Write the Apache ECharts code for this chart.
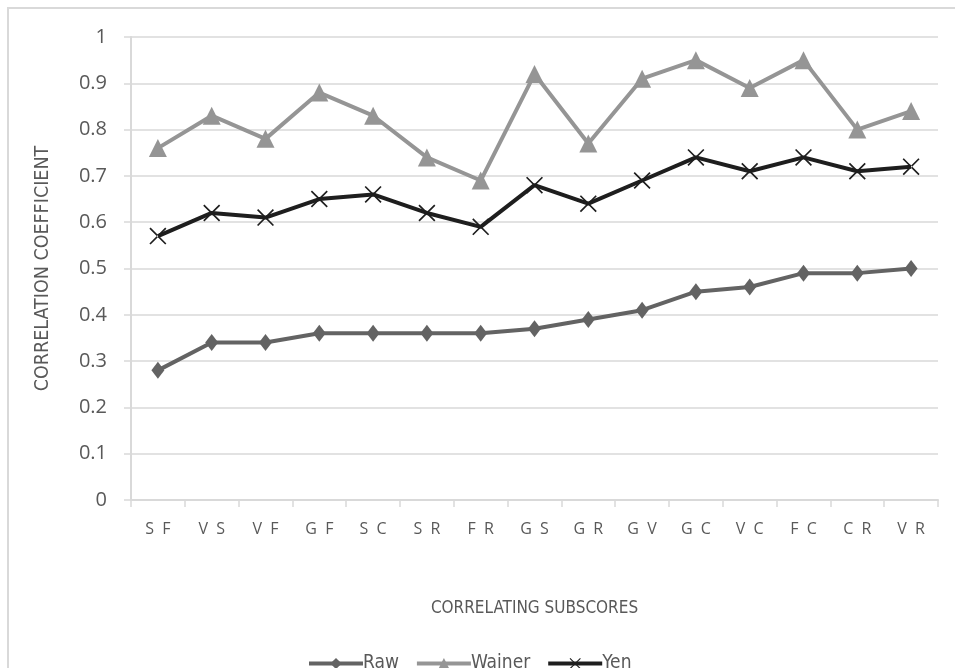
<!DOCTYPE html>
<html>
<head>
<meta charset="utf-8">
<script src="https://cdn.jsdelivr.net/npm/echarts@6/dist/echarts.min.js"></script>
<style>
html,body{margin:0;padding:0;background:#fff;}
#frame{position:absolute;left:7px;top:7px;width:960px;height:680px;border:2px solid #d9d9d9;box-sizing:border-box;}
#chart{position:absolute;left:0;top:0;width:955px;height:668px;}
</style>
</head>
<body>
<div id="frame"></div>
<div id="chart"></div>
<script>
const categories = ['SF','VS','VF','GF','SC','SR','FR','GS','GR','GV','GC','VC','FC','CR','VR'];
const rawValues = [0.28,0.34,0.34,0.36,0.36,0.36,0.36,0.37,0.39,0.41,0.45,0.46,0.49,0.49,0.50];
const wainerValues = [0.76,0.83,0.78,0.88,0.83,0.74,0.69,0.92,0.77,0.91,0.95,0.89,0.95,0.80,0.84];
const yenValues = [0.57,0.62,0.61,0.65,0.66,0.62,0.59,0.68,0.64,0.69,0.74,0.71,0.74,0.71,0.72];

const xSymbol = 'path://M0,1.4L1.4,0L20,18.6L18.6,20Z M20,1.4L18.6,0L0,18.6L1.4,20Z';
const narrow = "'Liberation Sans Narrow','DejaVu Sans Condensed',sans-serif";
const tickFont = "'Open Sans','Liberation Sans',sans-serif";

const chart = echarts.init(document.getElementById('chart'), null, {renderer:'canvas'});
chart.setOption({
  backgroundColor: 'transparent',
  animation: false,
  grid: {left: 131, right: 17, top: 37, bottom: 168},
  legend: {
    top: 649, left: 302,
    itemWidth: 54, itemHeight: 14, itemGap: 16,
    lineStyle: {width: 4},
    textStyle: {color: '#595959', fontSize: 19, fontFamily: narrow, padding: [0,0,0,-5]},
    data: ['Raw','Wainer','Yen']
  },
  xAxis: {
    type: 'category',
    data: categories,
    boundaryGap: true,
    name: 'CORRELATING SUBSCORES',
    nameLocation: 'middle',
    nameGap: 100,
    nameTextStyle: {color: '#595959', fontSize: 17, fontFamily: narrow},
    axisLine: {lineStyle: {color: '#d9d9d9', width: 2}},
    axisTick: {show: true, length: 7, lineStyle: {color: '#d9d9d9', width: 1.5}},
    axisLabel: {
      color: '#595959', fontSize: 16, margin: 21,
      fontFamily: tickFont,
      formatter: v => v.split('').join('  ')
    }
  },
  yAxis: {
    type: 'value',
    min: 0, max: 1, interval: 0.1,
    name: 'CORRELATION COEFFICIENT',
    nameLocation: 'middle',
    nameGap: 78,
    nameTextStyle: {color: '#595959', fontSize: 19.5, fontFamily: narrow},
    axisLine: {show: true, lineStyle: {color: '#d9d9d9', width: 2}},
    axisTick: {show: true, length: 7, lineStyle: {color: '#d9d9d9', width: 1.5}},
    splitLine: {lineStyle: {color: '#d9d9d9', width: 1.5}},
    axisLabel: {
      color: '#595959', fontSize: 20, margin: 24,
      fontFamily: tickFont,
      formatter: v => String(Math.round(v*10)/10)
    }
  },
  series: [
    {
      name: 'Raw', type: 'line', data: rawValues,
      symbol: 'diamond', symbolSize: [13,17],
      lineStyle: {color: '#636363', width: 4},
      itemStyle: {color: '#636363'}
    },
    {
      name: 'Wainer', type: 'line', data: wainerValues,
      symbol: 'triangle', symbolSize: [18,18],
      lineStyle: {color: '#959595', width: 4},
      itemStyle: {color: '#959595'}
    },
    {
      name: 'Yen', type: 'line', data: yenValues,
      symbol: xSymbol, symbolSize: 17,
      lineStyle: {color: '#1e1e1e', width: 4},
      itemStyle: {color: '#1e1e1e'}
    }
  ]
});
</script>
</body>
</html>
